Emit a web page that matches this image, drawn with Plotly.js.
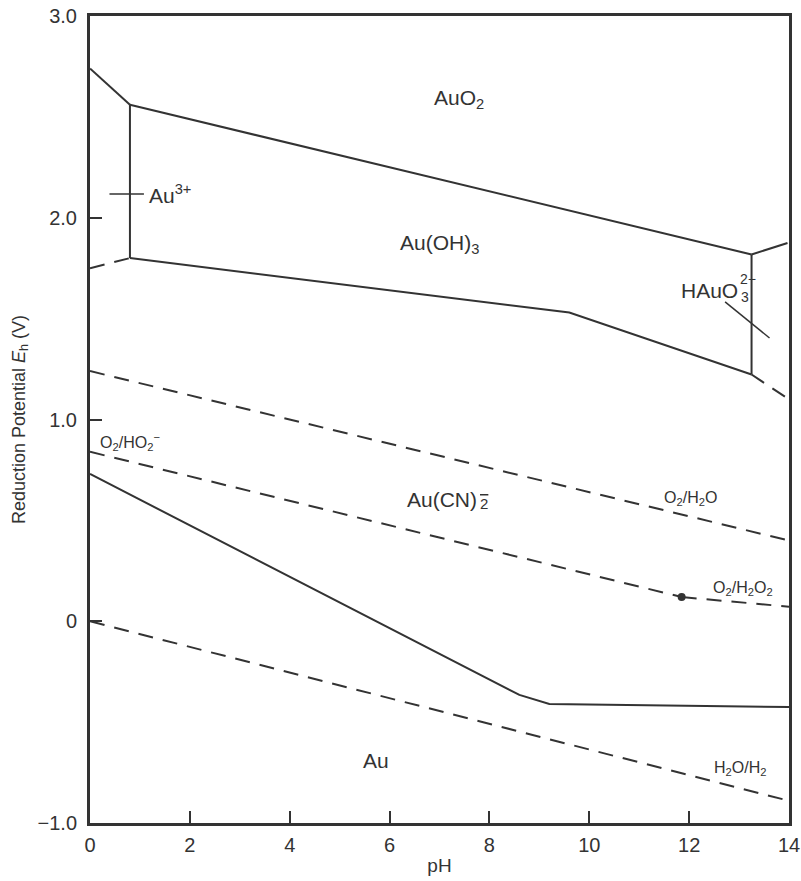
<!DOCTYPE html>
<html>
<head>
<meta charset="utf-8">
<script src="https://cdn.plot.ly/plotly-3.0.1.min.js"></script>
<style>html,body{margin:0;padding:0;background:#fff;}#chart{width:801px;height:881px;}</style>
</head>
<body>
<div id="chart"></div>
<script>
// ---- data (pH, Eh in V) ----
const auo2Au3X = [0, 0.8];
const auo2Au3Y = [2.74, 2.56];
const auo2AuOHX = [0.8, 13.25];
const auo2AuOHY = [2.56, 1.818];
const auo2HAuX = [13.25, 13.97];
const auo2HAuY = [1.818, 1.875];
const au3AuOHX = [0.8, 0.8];
const au3AuOHY = [2.56, 1.80];
const au3AuX = [0, 0.8];
const au3AuY = [1.75, 1.80];
const auOHLowerX = [0.8, 9.6, 13.25];
const auOHLowerY = [1.80, 1.53, 1.223];
const auOHHAuX = [13.25, 13.25];
const auOHHAuY = [1.818, 1.223];
const hAuLowerX = [13.25, 13.97];
const hAuLowerY = [1.223, 1.105];
const o2h2oX = [0, 14];
const o2h2oY = [1.24, 0.40];
const o2ho2X = [0, 11.85];
const o2ho2Y = [0.84, 0.12];
const o2h2o2X = [11.85, 14];
const o2h2o2Y = [0.12, 0.072];
const peroxDotX = [11.85];
const peroxDotY = [0.12];
const h2oh2X = [0, 14];
const h2oh2Y = [0, -0.89];
const auCNX = [0, 8.6, 9.2, 14];
const auCNY = [0.73, -0.365, -0.41, -0.425];
const au3LeaderX = [0.39, 1.08];
const au3LeaderY = [2.118, 2.118];
const hauLeaderX = [12.72, 13.61];
const hauLeaderY = [1.583, 1.404];
const xTicks = [0, 2, 4, 6, 8, 10, 12, 14];
const xTickLabels = ["0", "2", "4", "6", "8", "10", "12", "14"];
const yTicks = [-1, 0, 1, 2, 3];
const yTickLabels = ["\u22121.0", "0", "1.0", "2.0", "3.0"];

const INK = '#333333';
const FONT = 'Liberation Sans, Arial, Helvetica, sans-serif';
const solid = {color: INK, width: 2};
const dashed = {color: INK, width: 2, dash: '15px,10px'};
const thin = {color: INK, width: 1.5};

function tr(x, y, line) {
  return {x: x, y: y, mode: 'lines', line: line, hoverinfo: 'skip', showlegend: false, type: 'scatter'};
}

const traces = [
  tr(auo2Au3X, auo2Au3Y, solid),
  tr(auo2AuOHX, auo2AuOHY, solid),
  tr(auo2HAuX, auo2HAuY, solid),
  tr(au3AuOHX, au3AuOHY, solid),
  tr(au3AuX, au3AuY, dashed),
  tr(auOHLowerX, auOHLowerY, solid),
  tr(auOHHAuX, auOHHAuY, solid),
  tr(hAuLowerX, hAuLowerY, dashed),
  tr(o2h2oX, o2h2oY, dashed),
  tr(o2ho2X, o2ho2Y, dashed),
  tr(o2h2o2X, o2h2o2Y, dashed),
  tr(h2oh2X, h2oh2Y, dashed),
  tr(auCNX, auCNY, solid),
  tr(au3LeaderX, au3LeaderY, thin),
  tr(hauLeaderX, hauLeaderY, thin),
  {x: peroxDotX, y: peroxDotY, mode: 'markers', marker: {color: INK, size: 8}, hoverinfo: 'skip', showlegend: false, type: 'scatter'}
];

function ann(text, x, y, size, xanchor) {
  return {text: text, x: x, y: y, xref: 'x', yref: 'y', showarrow: false,
          xanchor: xanchor || 'center', yanchor: 'middle',
          font: {family: FONT, size: size, color: INK}};
}

const annotations = [
  ann('AuO<sub>2</sub>', 7.4, 2.59, 21),
  ann('Au(OH)<sub>3</sub>', 6.99, 1.87, 21),
  ann('Au<sup>3+</sup>', 1.15, 2.12, 21, 'left'),
  ann('HAuO', 13.02, 1.638, 21, 'right'),
  ann('2\u2212', 12.98, 1.697, 14, 'left'),
  ann('3', 12.99, 1.607, 14, 'left'),
  ann('Au(CN)', 7.8, 0.605, 21, 'right'),
  ann('<span style="text-decoration:overline">2</span>', 7.78, 0.585, 15, 'left'),
  ann('O<sub>2</sub>/H<sub>2</sub>O', 12.02, 0.61, 16),
  ann('O<sub>2</sub>/HO<sub>2</sub><sup>\u2212</sup>', 0.16, 0.89, 16, 'left'),
  ann('O<sub>2</sub>/H<sub>2</sub>O<sub>2</sub>', 13.07, 0.16, 16),
  ann('H<sub>2</sub>O/H<sub>2</sub>', 13.01, -0.73, 16),
  ann('Au', 5.73, -0.69, 21)
];

const axisCommon = {
  showline: true, linecolor: INK, linewidth: 3, mirror: true,
  ticks: 'inside', ticklen: 12, tickwidth: 2, tickcolor: INK,
  showgrid: false, zeroline: false, fixedrange: true,
  tickfont: {family: FONT, size: 20, color: INK}
};

const layout = {
  width: 801, height: 881,
  margin: {l: 90, r: 12, t: 16, b: 58},
  paper_bgcolor: '#ffffff', plot_bgcolor: '#ffffff',
  xaxis: Object.assign({}, axisCommon, {
    range: [0, 14], tickmode: 'array', tickvals: xTicks, ticktext: xTickLabels,
    ticklabelstandoff: 2,
    title: {text: 'pH', font: {family: FONT, size: 19, color: INK}, standoff: 4}
  }),
  yaxis: Object.assign({}, axisCommon, {
    range: [-1, 3], tickmode: 'array', tickvals: yTicks, ticktext: yTickLabels,
    ticklabelstandoff: 6,
    title: {text: 'Reduction Potential <i>E</i><sub>h</sub> (V)', font: {family: FONT, size: 18, color: INK}, standoff: 8}
  }),
  annotations: annotations,
  showlegend: false
};

Plotly.newPlot('chart', traces, layout, {staticPlot: true, displayModeBar: false});
</script>
</body>
</html>
